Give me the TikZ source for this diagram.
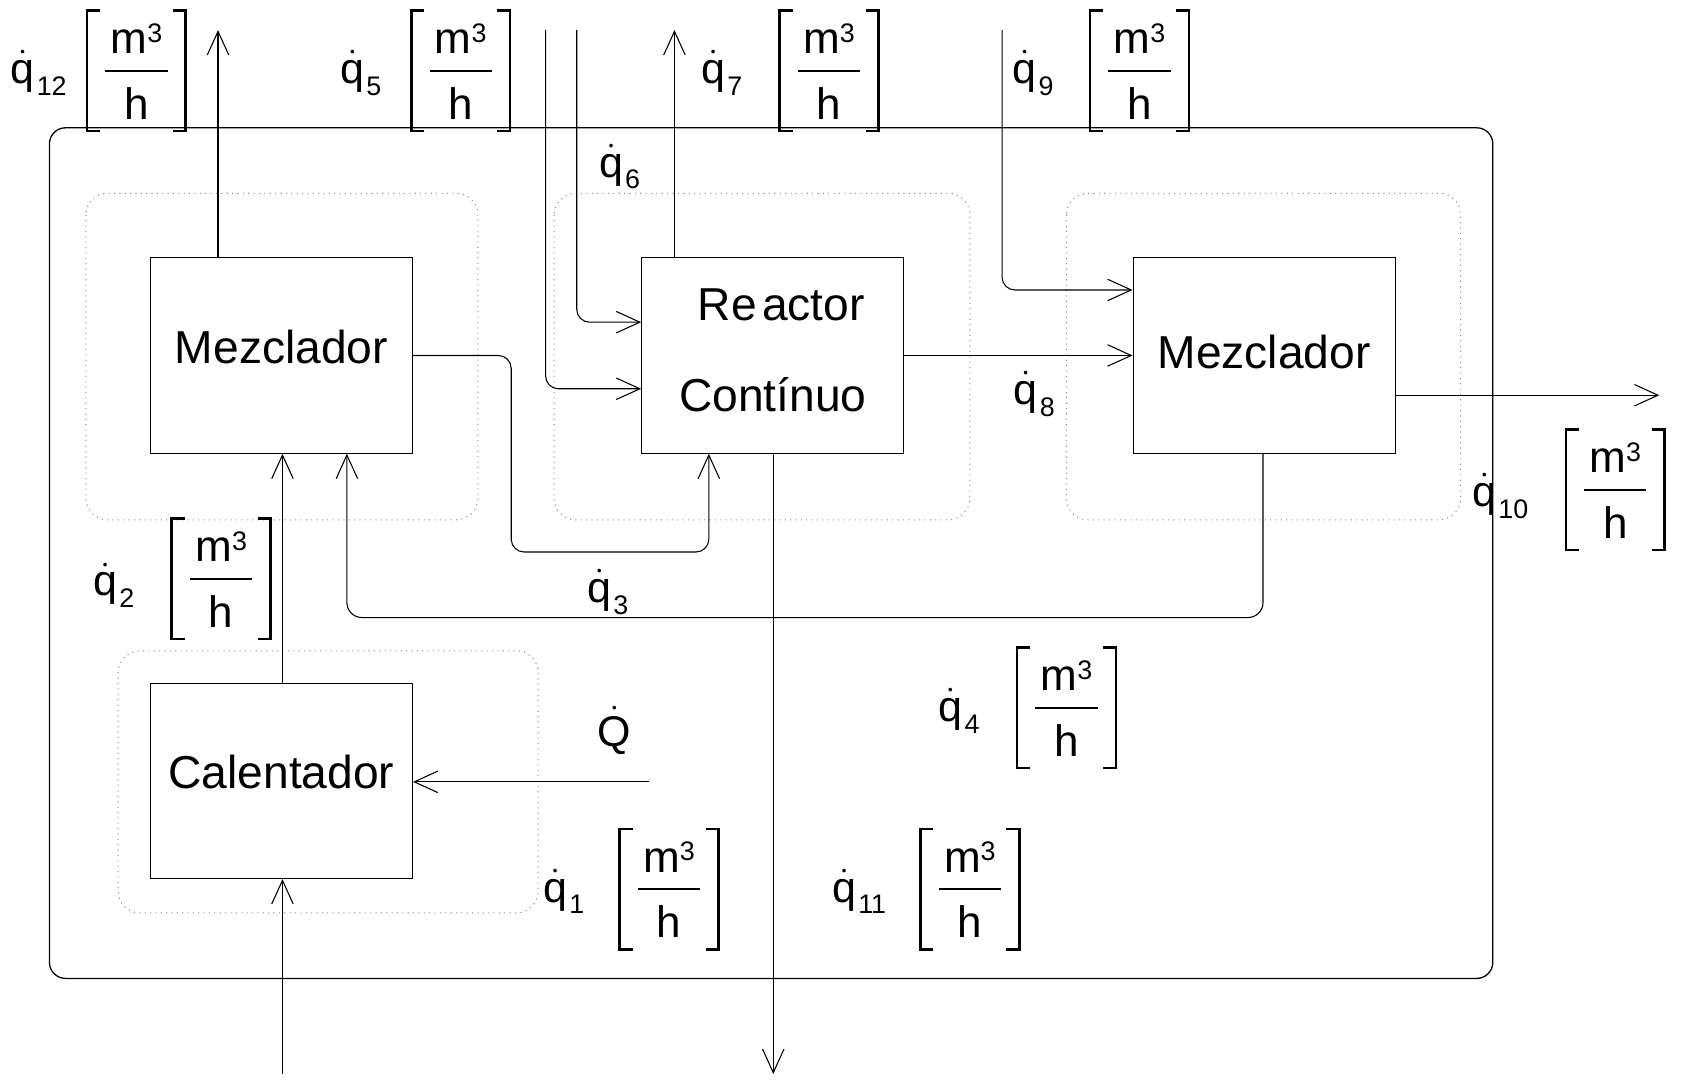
\documentclass[tikz,border=0pt]{standalone}
\usepackage{amsmath}
\usepackage{fontspec}
\setmainfont{Liberation Sans}
\usetikzlibrary{positioning, arrows.meta}
\tikzset{
  bloque/.style={draw, line width=0.5pt, minimum width=122pt, minimum height=91pt,
    text depth=8pt, font=\fontsize{21.5}{26}\selectfont},
  zona/.style={draw=black!45, dotted, line width=0.5pt, rounded corners=10pt},
  flujo/.style={line width=0.5pt, -{Straight Barb[length=11pt, width=10pt]}},
  caudal/.style={font=\fontsize{20}{24}\selectfont},
  unidad/.style={font=\fontsize{20.5}{24}\selectfont},
}
% indice pequeno, como en el editor de ecuaciones
\newcommand{\indice}[1]{\kern1pt\raisebox{-5.5pt}{\fontsize{12.5}{12.5}\selectfont #1}}

\begin{document}
\begin{tikzpicture}[x=0.5pt, y=-0.5pt]
  \useasboundingbox (0,0) rectangle (1568,1005);
  % frontera del sistema y subsistemas
  \draw[line width=0.6pt, rounded corners=7.5pt] (46,119) rectangle (1390,911);
  \draw[zona] (80,180) rectangle (445,484);
  \draw[zona] (516,180) rectangle (903,484);
  \draw[zona] (993,180) rectangle (1360,484);
  \draw[zona] (110,606) rectangle (501,850);

  % equipos
  \node[bloque] (mezA) at (262,331) {Mezclador};
  \node[bloque, text depth=5pt, align=center, font=\fontsize{21.5}{42.5}\selectfont]
    (reac) at (719.5,331) {\hspace*{8pt}Re\kern.12em actor\\Contínuo};
  \node[bloque, text depth=3pt] (mezB) at (1177,331) {Mezclador};
  \node[bloque] (cal) at (262,727) {Calentador};

  % extremos libres de las corrientes
  \coordinate (s12) at (203,28);
  \coordinate (e5) at (508,28);
  \coordinate (e6) at (537,28);
  \coordinate (s7) at (628,28);
  \coordinate (e9) at (933,28);
  \coordinate (s10) at (1545,368);
  \coordinate (s11) at (720,1000);
  \coordinate (eQ) at (604,728);
  \coordinate (e1) at (263,1000);
  \coordinate (r3a) at (476,514);
  \coordinate (r3b) at (660,514);
  \coordinate (r4a) at (1176,575);
  \coordinate (r4b) at (323,575);

  \draw[flujo] (mezA.north -| s12) -- (s12);
  \draw[flujo, rounded corners=6pt] (e5) |- ([yshift=-15.5pt]reac.west);
  \draw[flujo, rounded corners=6pt] (e6) |- ([yshift=15.5pt]reac.west);
  \draw[flujo] (reac.north -| s7) -- (s7);
  \draw[flujo, rounded corners=6pt] (e9) |- ([yshift=30.5pt]mezB.west);
  \draw[flujo] (reac.east) -- (mezB.west);
  \draw[flujo] (mezB.east |- s10) -- (s10);
  \draw[flujo] (reac.south -| s11) -- (s11);
  \draw[flujo, rounded corners=6pt] (mezA.east) -| (r3a) -- (r3b) -- (reac.south -| r3b);
  \draw[flujo, rounded corners=7pt] (mezB.south -| r4a) -- (r4a) -- (r4b) -- (mezA.south -| r4b);
  \draw[flujo] (cal.north -| e1) -- (mezA.south -| e1);
  \draw[flujo] (eQ) -- (cal.east |- eQ);
  \draw[flujo] (e1) -- (cal.south -| e1);

  % caudales
  \foreach \nom/\sub/\lx/\ly in {q12/12/36/68, q5/5/336/68, q6/6/577/155,
      q7/7/672/68, q9/9/962/68, q8/8/963/367, q10/10/1397/462, q2/2/106/545,
      q3/3/566/551, q4/4/893/662, q1/1/525/830, q11/11/800/830}
    \node[caudal] (\nom) at (\lx,\ly) {$\dot{\text{q}}$\indice{\sub}};
  \node[caudal] (Q) at (572,680) {$\dot{\text{Q}}$};

  % unidades entre corchetes
  \foreach \nom/\ux/\uy in {u12/127/66, u5/429/66, u7/772/66, u9/1061/66,
      u10/1504/456, u2/206/539, u4/993/659, u1/623/828, u11/903/828} {
    \draw[line width=1.25pt] (\ux-34,\uy-56) -- (\ux-46,\uy-56) -- (\ux-46,\uy+56) -- (\ux-34,\uy+56);
    \draw[line width=1.25pt] (\ux+34,\uy-56) -- (\ux+46,\uy-56) -- (\ux+46,\uy+56) -- (\ux+34,\uy+56);
    \draw[line width=0.9pt] (\ux-29,\uy) -- (\ux+29,\uy);
    \node[unidad, anchor=base] (\nom-m) at (\ux,\uy-16)
      {m\raisebox{5.2pt}{\fontsize{12.5}{12.5}\selectfont 3}};
    \node[unidad, anchor=base] (\nom-h) at (\ux,\uy+45) {h};
  }
\end{tikzpicture}
\end{document}
